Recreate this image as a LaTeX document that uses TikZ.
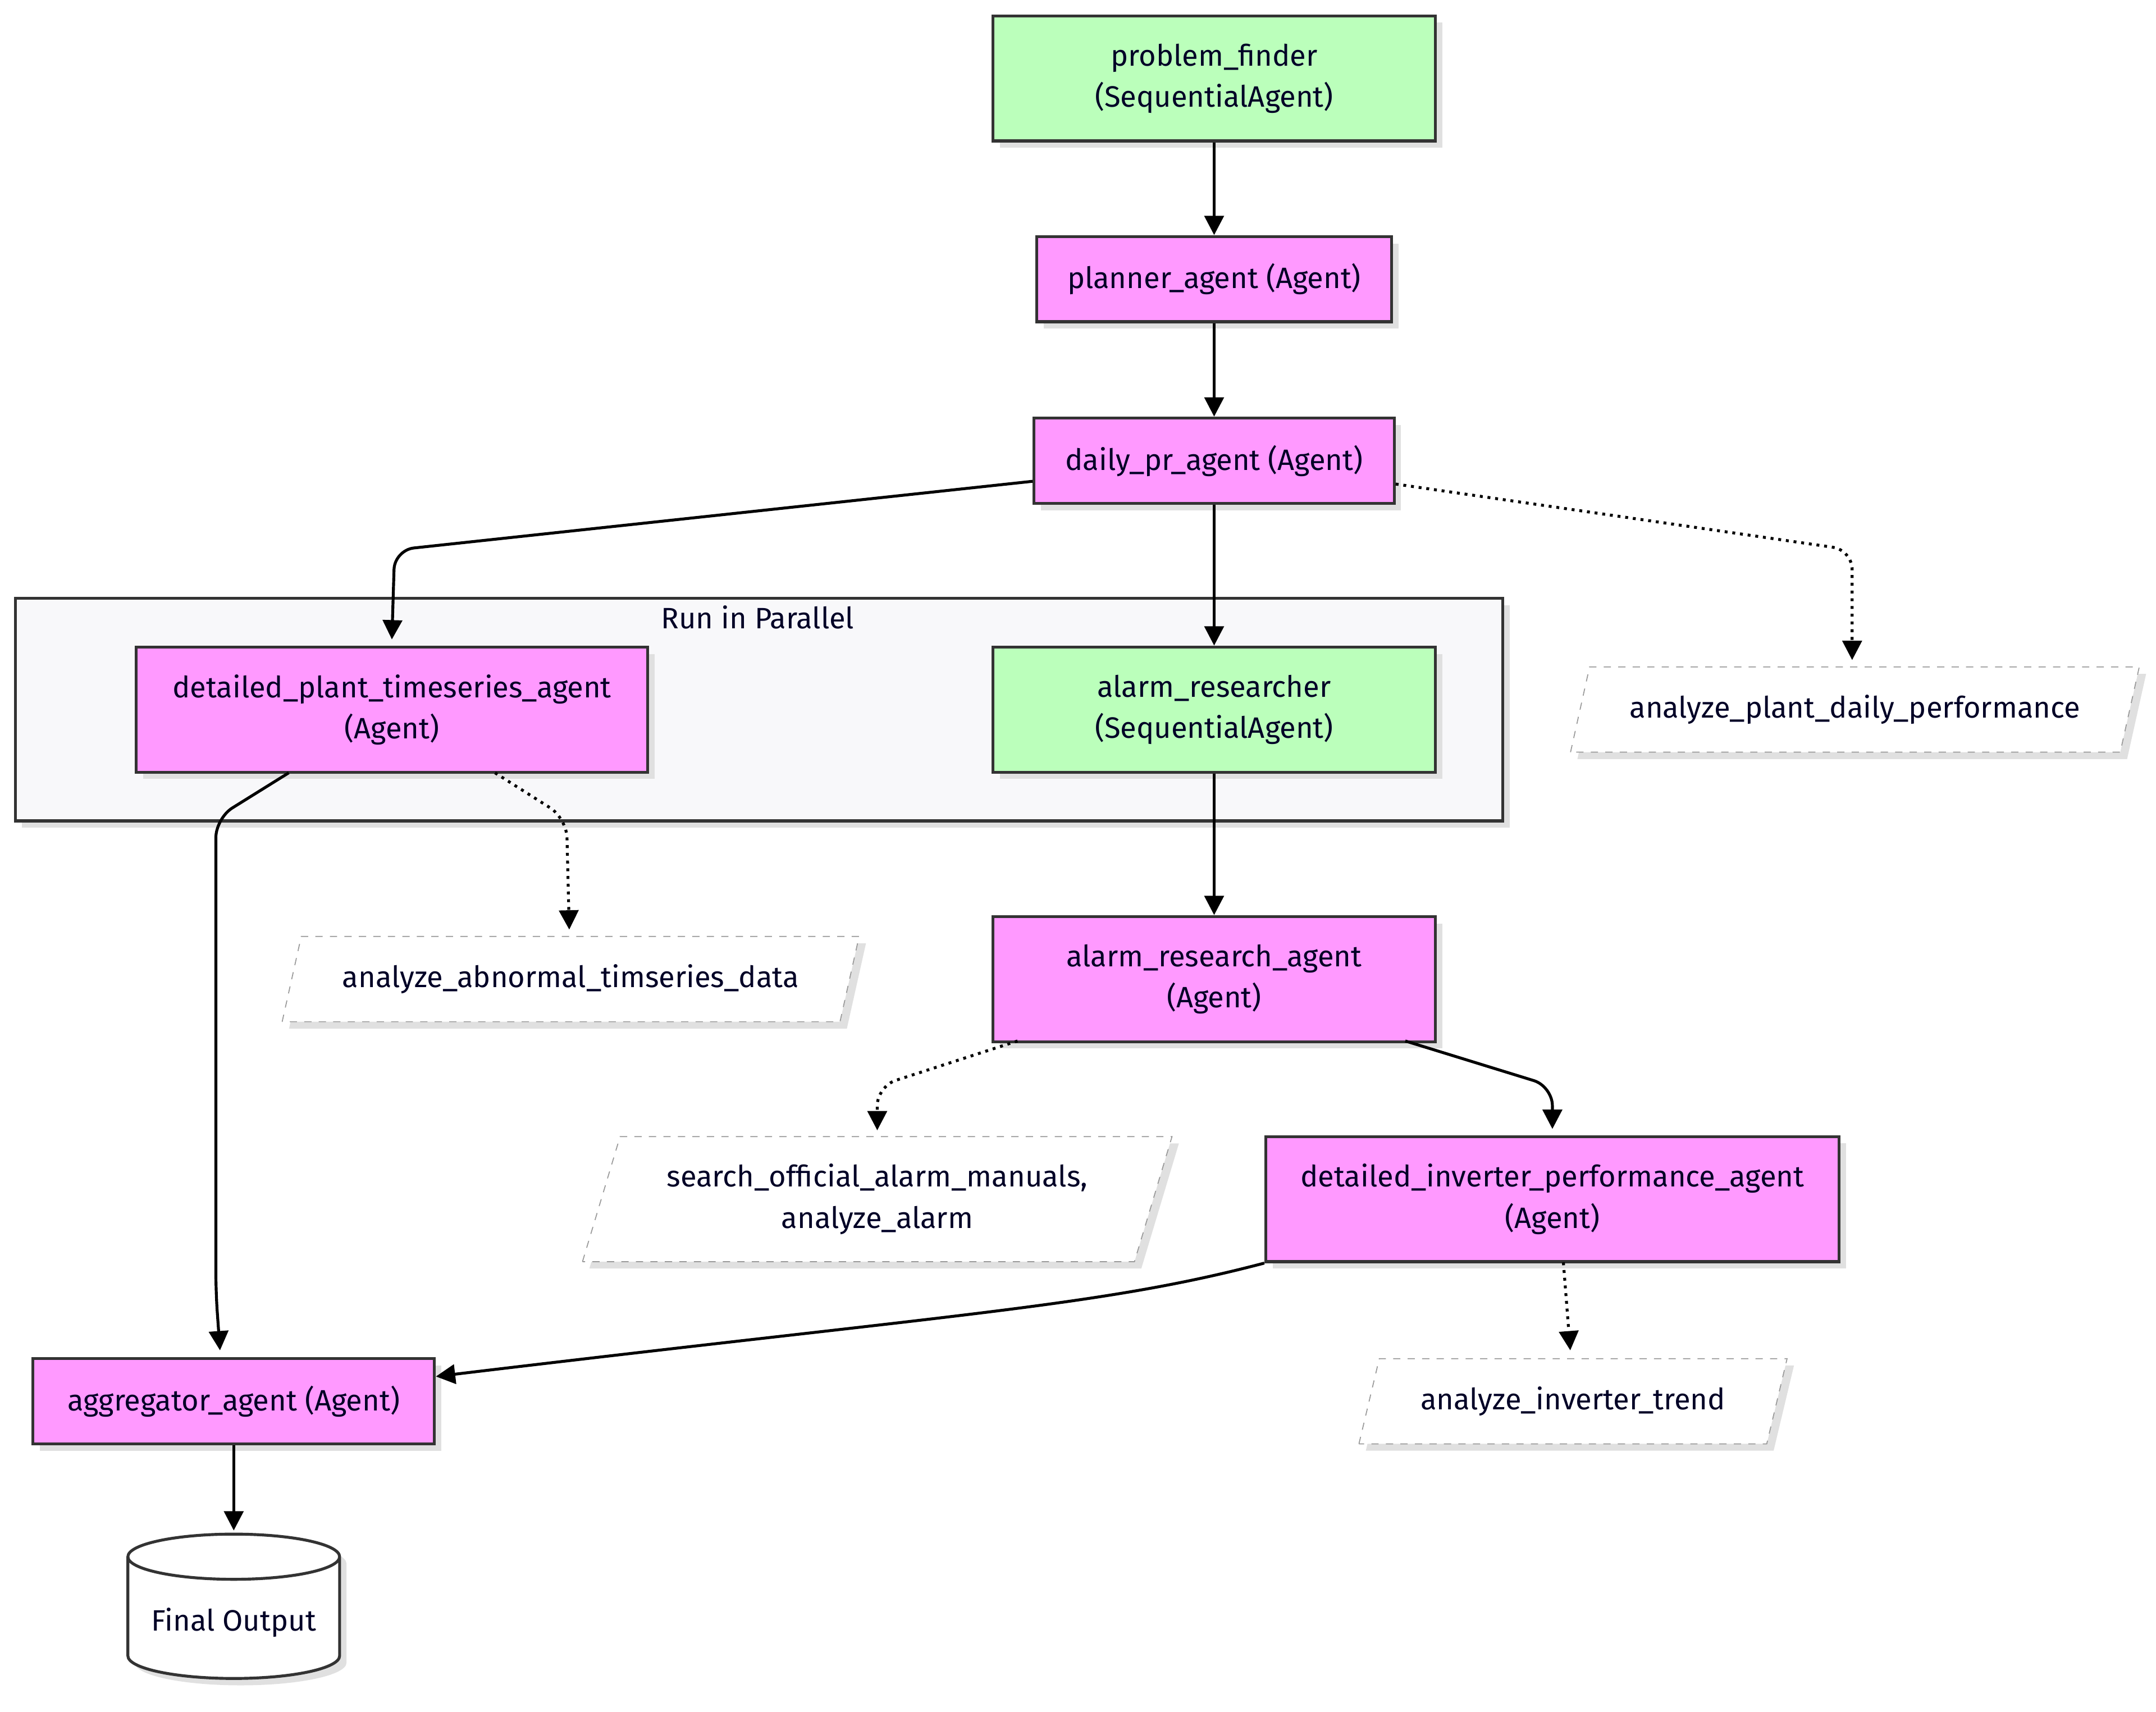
\documentclass[tikz,border=0pt]{standalone}
\usepackage{fontspec}
\setmainfont{Fira Sans}
\usetikzlibrary{shapes.geometric,arrows.meta,shadows}
\definecolor{seqgreen}{HTML}{BBFFBB}
\definecolor{agentpink}{HTML}{FF99FF}
\definecolor{edgegray}{HTML}{333333}
\definecolor{clusterbg}{HTML}{F8F8FA}
\begin{document}
\begin{tikzpicture}[x=0.02cm, y=-0.02cm,
font=\fontsize{12.2}{17}\selectfont, text=black!85!blue,
shade/.style={drop shadow={shadow xshift=0.1cm, shadow yshift=-0.1cm, fill=black!12, opacity=1}},
box/.style={draw=edgegray, line width=1.2pt, align=center, shade},
seq/.style={box, fill=seqgreen, minimum width=6.44cm, minimum height=1.82cm},
agent/.style={box, fill=agentpink, minimum height=1.24cm},
tool/.style={trapezium, trapezium left angle=70, trapezium right angle=110,
  trapezium stretches=true, inner xsep=2pt,
  draw=black!40, dashed, fill=white, align=center, shade},
flow/.style={-{Triangle[width=8pt,length=8pt]}, line width=1.2pt, rounded corners=8pt},
uses/.style={flow, dotted}]
\useasboundingbox (0,0) rectangle (1568,1245);
% cluster
\node[draw=edgegray, line width=1.2pt, fill=clusterbg, minimum width=21.64cm,
  minimum height=3.24cm, shade] (par) at (552,516) {};
\node (parlabel) at (551,449) {Run in Parallel};
% agents
\node[seq] (finder) at (883,57) {problem\_finder\\(SequentialAgent)};
\node[agent, minimum width=5.16cm] (planner) at (883,203) {planner\_agent (Agent)};
\node[agent, minimum width=5.24cm] (daily) at (883,335) {daily\_pr\_agent (Agent)};
\node[agent, minimum width=7.44cm, minimum height=1.82cm] (plant) at (285,516) {detailed\_plant\_timeseries\_agent\\(Agent)};
\node[seq] (researcher) at (883,516) {alarm\_researcher\\(SequentialAgent)};
\node[agent, minimum width=6.44cm, minimum height=1.82cm] (research) at (883,712) {alarm\_research\_agent\\(Agent)};
\node[agent, minimum width=8.34cm, minimum height=1.82cm] (inverter) at (1129,872) {detailed\_inverter\_performance\_agent\\(Agent)};
\node[agent, minimum width=5.84cm] (aggregator) at (170,1019) {aggregator\_agent (Agent)};
\node[cylinder, shape border rotate=90, aspect=0.25, draw=edgegray, line width=1.2pt,
  fill=white, minimum width=3.08cm, minimum height=2.1cm, shade] (output) at (170,1180) {Final Output};
% tools
\node[tool, minimum width=8.3cm, minimum height=1.24cm] (dailytool) at (1349,516) {analyze\_plant\_daily\_performance};
\node[tool, minimum width=8.4cm, minimum height=1.24cm] (abntool) at (415,712) {analyze\_abnormal\_timseries\_data};
\node[tool, minimum width=8.6cm, minimum height=1.82cm] (alarmtool) at (638,872) {search\_official\_alarm\_manuals,\\analyze\_alarm};
\node[tool, minimum width=6.24cm, minimum height=1.24cm] (invtool) at (1144,1019) {analyze\_inverter\_trend};
% edges
\draw[flow] (finder) -- (planner);
\draw[flow] (planner) -- (daily);
\draw[flow] (daily.west |- 0,350) -- (287,400) -- (285,465);
\draw[flow] (daily) -- (researcher);
\draw[uses] (daily.east |- 0,352) -- (1347,400) -- (1347,480);
\draw[uses] (360,562) -- (412,595) -- (414,676);
\draw[flow] (210,562) -- (157,595) -- (157,940) -- (160,982);
\draw[flow] (researcher) -- (research);
\draw[uses] (740,757) -- (638,790) -- (638,822);
\draw[flow] (1022,757) -- (1129,790) -- (1129,821);
\draw[flow] (inverter.south west) .. controls (800,950) and (700,955) .. (aggregator.east |- 0,1001);
\draw[uses] (1137,918) -- (1142,982);
\draw[flow] (aggregator) -- (170,1113);
\end{tikzpicture}
\end{document}
